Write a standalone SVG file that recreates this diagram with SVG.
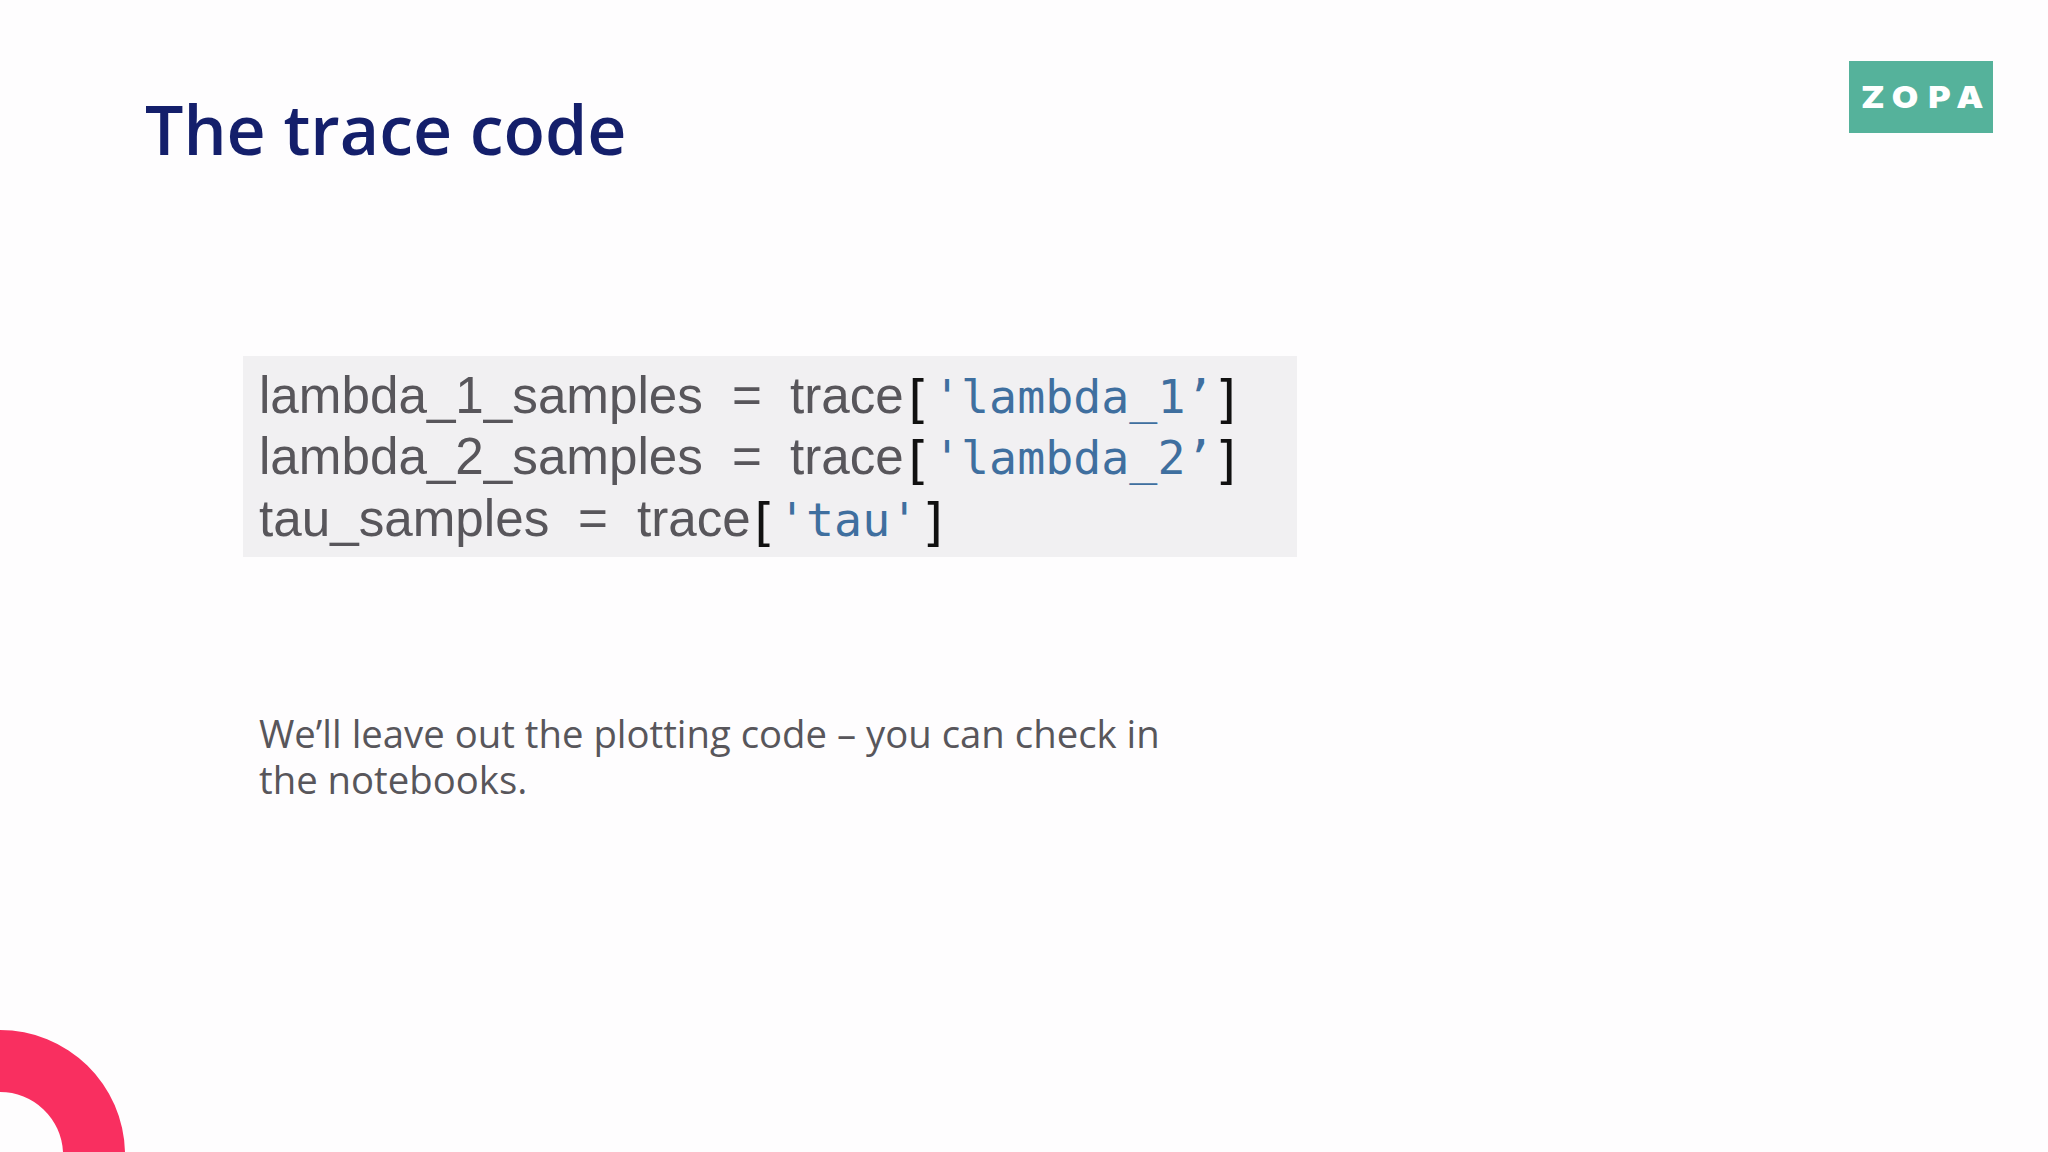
<svg xmlns="http://www.w3.org/2000/svg" width="2048" height="1152" viewBox="0 0 2048 1152">
<style>
.code{font-family:"Liberation Sans",Arial,sans-serif;font-size:51.2px;fill:#58565b}
.mono{font-family:"DejaVu Sans Mono",monospace;font-size:46.6px;fill:#3f6f9f}
.br{font-family:"DejaVu Sans Mono",monospace;font-size:52px;fill:#111}
.body{font-family:"Open Sans",sans-serif;font-size:38.3px;fill:#58565b}
</style>
<rect width="2048" height="1152" fill="#fefdfe"/>
<g id="title"><text x="145" y="155" font-family="Open Sans, sans-serif" font-weight="600" font-size="68" fill="#141f6b">The trace code</text></g>
<g id="logo"><rect x="1849" y="61" width="144" height="72" fill="#55b29b"/>
<text transform="translate(0 108) scale(1.14 1)" font-family="Inter, sans-serif" font-weight="900" font-size="30" fill="#fff"><tspan x="1632.5">Z</tspan><tspan x="1659.5">O</tspan><tspan x="1691.5">P</tspan><tspan x="1716">A</tspan></text></g>
<g id="code"><rect x="243" y="356" width="1054" height="201" fill="#f1f0f2"/>
<text class="code" x="259" y="413">lambda_1_samples</text><text class="code" x="732" y="413">=</text><text class="code" x="790" y="413">trace</text>
<text class="br" x="901" y="417">[</text><text class="mono" x="933" y="413">'lambda_1’</text><text class="br" x="1212" y="417">]</text>
<text class="code" x="259" y="474">lambda_2_samples</text><text class="code" x="732" y="474">=</text><text class="code" x="790" y="474">trace</text>
<text class="br" x="901" y="478">[</text><text class="mono" x="933" y="474">'lambda_2’</text><text class="br" x="1212" y="478">]</text>
<text class="code" x="259" y="536">tau_samples</text><text class="code" x="578" y="536">=</text><text class="code" x="637" y="536">trace</text>
<text class="br" x="747" y="540">[</text><text class="mono" x="778" y="536">'tau'</text><text class="br" x="919" y="540">]</text></g>
<g id="note"><text class="body" x="259" y="748">We’ll leave out the plotting code – you can check in</text><text class="body" x="259" y="794">the notebooks.</text></g>
<g id="arc"><path d="M0 1030A125 125 0 0 1 125 1152L63 1152A63 63 0 0 0 0 1092Z" fill="#f92f60"/></g>
</svg>
